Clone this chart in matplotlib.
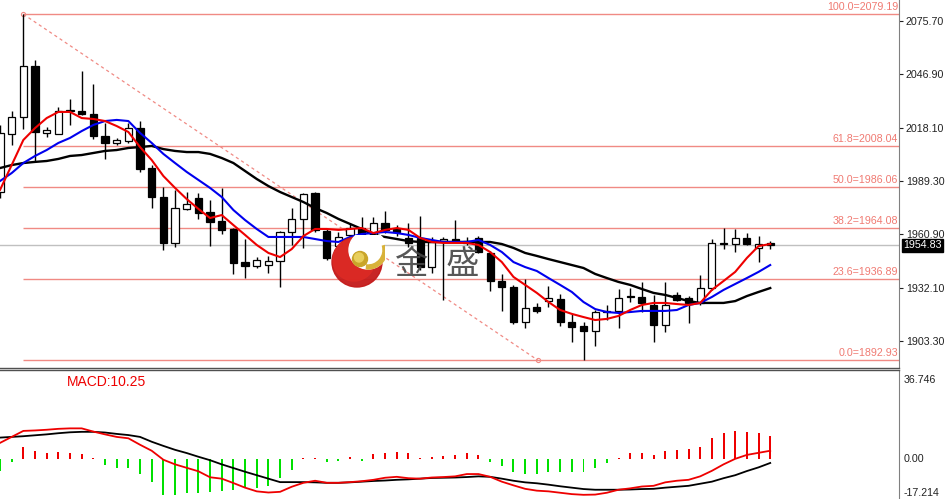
import numpy as np
import matplotlib
matplotlib.use("Agg")
import matplotlib.pyplot as plt
from matplotlib.patches import Circle, Wedge
from matplotlib.transforms import blended_transform_factory

plt.rcParams['font.family'] = ['Liberation Sans', 'DejaVu Sans']

# candles (open, high, low, close)
opens = [1983.5, 2014.7, 2023.9, 2051.3, 2015.3, 2014.7, 2027.1, 2027.1, 2025.5, 2013.6,
         2009.9, 2010.9, 2017.9, 1996.4, 1980.8, 1956.0, 1974.3, 1980.3, 1972.7, 1967.9,
         1963.6, 1945.8, 1943.7, 1944.2, 1946.4, 1962.0, 1969.0, 1983.0, 1962.5, 1954.4,
         1960.4, 1964.1, 1947.4, 1966.8, 1963.6, 1958.7, 1958.7, 1943.1, 1957.1, 1958.2,
         1957.1, 1958.7, 1950.7, 1935.6, 1932.4, 1913.5, 1921.6, 1924.8, 1925.9, 1913.5,
         1911.4, 1908.7, 1918.9, 1919.5, 1927.5, 1927.0, 1922.7, 1911.9, 1928.0, 1926.5,
         1923.8, 1931.8, 1956.1, 1955.5, 1958.7, 1953.4, 1955.8]
highs = [2019.6, 2027.1, 2079.19, 2054.5, 2018.5, 2029.3, 2033.6, 2048.6, 2041.6, 2020.6,
         2012.6, 2020.6, 2021.7, 1998.0, 1986.2, 1984.6, 1983.5, 1983.0, 1979.2, 1985.6,
         1964.0, 1958.2, 1948.5, 1949.1, 1962.5, 1974.9, 1983.0, 1983.5, 1963.5, 1962.0,
         1966.8, 1970.0, 1970.0, 1973.3, 1965.7, 1966.8, 1970.6, 1959.3, 1959.3, 1968.4,
         1959.3, 1959.8, 1951.8, 1939.4, 1933.5, 1936.7, 1923.8, 1932.9, 1928.6, 1917.8,
         1913.5, 1920.0, 1922.7, 1931.3, 1931.8, 1935.1, 1928.0, 1935.1, 1929.7, 1927.5,
         1938.8, 1958.2, 1964.1, 1963.6, 1961.4, 1959.8, 1957.1]
lows = [1980.3, 2008.8, 2017.4, 1999.6, 2013.1, 2014.5, 2019.6, 2024.9, 2012.0, 2001.3,
        2008.8, 2009.9, 1994.3, 1974.9, 1952.3, 1953.9, 1973.8, 1969.0, 1954.4, 1960.9,
        1939.4, 1937.2, 1942.6, 1939.9, 1932.4, 1955.0, 1953.4, 1962.0, 1946.9, 1952.3,
        1958.7, 1950.7, 1945.8, 1961.4, 1959.8, 1953.9, 1941.5, 1939.9, 1925.4, 1956.6,
        1955.0, 1950.7, 1930.2, 1919.5, 1912.4, 1910.3, 1918.4, 1921.6, 1911.4, 1902.8,
        1892.93, 1900.6, 1914.6, 1910.3, 1924.3, 1918.9, 1902.8, 1908.2, 1924.8, 1913.0,
        1922.7, 1930.8, 1952.8, 1951.2, 1955.0, 1945.8, 1952.8]
closes = [2015.3, 2023.9, 2051.3, 2015.8, 2016.9, 2027.1, 2027.4, 2025.5, 2013.6, 2009.9,
          2011.5, 2017.9, 1995.9, 1980.8, 1956.0, 1974.9, 1977.0, 1972.2, 1967.4, 1963.0,
          1945.3, 1943.7, 1946.9, 1946.4, 1962.0, 1969.0, 1982.4, 1963.0, 1948.0, 1959.3,
          1964.1, 1952.3, 1966.8, 1963.0, 1962.0, 1956.0, 1943.1, 1956.6, 1958.2, 1957.1,
          1956.0, 1951.2, 1935.6, 1932.4, 1913.5, 1921.1, 1919.5, 1926.5, 1913.5, 1910.8,
          1908.7, 1918.9, 1919.5, 1926.5, 1927.0, 1923.8, 1911.9, 1922.7, 1925.4, 1923.8,
          1931.8, 1956.1, 1955.5, 1958.7, 1955.5, 1955.5, 1954.83]

# moving averages
ma_fast = [1984.6, 1998.0, 2011.5, 2017.9, 2023.3, 2026.6, 2026.6, 2023.3, 2022.8, 2021.7,
           2019.0, 2015.8, 2007.7, 2000.7, 1992.1, 1985.7, 1979.7, 1974.4, 1969.5, 1971.1,
           1965.7, 1960.4, 1955.0, 1950.7, 1948.5, 1952.8, 1959.8, 1963.6, 1963.6, 1963.1,
           1963.6, 1964.1, 1961.4, 1963.1, 1964.1, 1963.1, 1958.8, 1956.6, 1956.1, 1956.1,
           1956.1, 1955.0, 1951.2, 1945.8, 1937.8, 1933.5, 1929.2, 1924.3, 1920.0, 1917.9,
           1916.2, 1914.6, 1915.2, 1916.8, 1920.0, 1922.7, 1923.8, 1923.8, 1923.2, 1922.7,
           1923.8, 1930.8, 1935.6, 1940.5, 1948.0, 1954.4, 1955.5]
ma_mid = [1989.4, 1993.7, 1999.1, 2002.9, 2006.1, 2009.9, 2012.6, 2016.3, 2019.6, 2021.7,
          2022.3, 2021.7, 2015.3, 2009.9, 2004.0, 1999.1, 1994.3, 1990.0, 1985.7, 1980.8,
          1973.8, 1968.4, 1963.6, 1959.3, 1959.3, 1959.3, 1959.3, 1958.2, 1957.1, 1956.6,
          1959.3, 1960.9, 1961.4, 1962.0, 1961.4, 1960.4, 1958.8, 1957.7, 1956.6, 1956.6,
          1956.6, 1957.7, 1955.0, 1951.2, 1945.8, 1943.1, 1941.0, 1937.2, 1933.5, 1929.7,
          1924.3, 1920.5, 1918.9, 1918.4, 1918.9, 1919.5, 1919.5, 1919.5, 1920.0, 1922.7,
          1923.8, 1927.0, 1930.8, 1934.0, 1937.2, 1940.5, 1944.2]
ma_slow = [1996.4, 1998.0, 1999.1, 1999.7, 2000.2, 2001.3, 2002.9, 2003.4, 2004.5, 2005.6,
           2006.1, 2007.2, 2007.7, 2008.3, 2006.6, 2005.6, 2005.0, 2005.0, 2004.0, 2001.8,
           1999.1, 1994.8, 1990.5, 1986.7, 1983.5, 1980.8, 1978.1, 1974.9, 1972.2, 1969.0,
           1966.3, 1963.6, 1960.4, 1959.3, 1958.2, 1957.1, 1956.6, 1956.6, 1956.6, 1956.6,
           1956.6, 1956.6, 1956.6, 1955.5, 1953.4, 1950.7, 1949.1, 1947.4, 1945.8, 1944.2,
           1942.6, 1939.4, 1937.2, 1935.1, 1933.5, 1931.3, 1929.2, 1928.1, 1926.5, 1924.8,
           1923.8, 1923.8, 1923.8, 1924.8, 1927.5, 1929.7, 1931.8]

# fibonacci retracement
fib_pct = [0.0, 23.6, 38.2, 50.0, 61.8, 100.0]
fib_price = [1892.93, 1936.89, 1964.08, 1986.06, 2008.04, 2079.19]
fib_x = [2, 46.1]  # anchor bars of the drawn fib tool

y_ticks = [2075.70, 2046.90, 2018.10, 1989.30, 1960.90, 1932.10, 1903.30]
last_price = 1954.83

# MACD
macd_hist = [-5.1, -1.0, 5.5, 3.6, 2.6, 3.0, 2.6, 2.2, 0.4, -2.5,
             -3.9, -3.9, -6.5, -10.0, -15.4, -15.4, -14.7, -14.7, -14.0, -13.7,
             -13.3, -12.6, -12.6, -11.4, -8.2, -4.6, 0.4, 0.4, -1.3, -0.7,
             1.2, -0.7, 2.2, 2.6, 3.0, 2.6, 0.4, 1.2, 1.6, 1.9,
             2.6, 1.9, -1.0, -2.7, -5.6, -6.5, -6.5, -5.6, -5.6, -5.6,
             -5.6, -3.6, -1.7, 0.4, 2.6, 2.6, 1.9, 3.6, 4.0, 4.5,
             5.5, 9.4, 11.3, 12.4, 12.0, 11.3, 10.25]
macd_dif = [7.1, 9.7, 12.3, 12.5, 12.8, 13.2, 13.4, 13.4, 12.0, 10.8,
            9.7, 9.1, 6.3, 3.7, -0.2, -2.2, -3.7, -5.2, -7.8, -8.4,
            -10.3, -12.3, -13.9, -14.4, -14.1, -11.9, -10.2, -9.3, -10.2, -10.2,
            -9.9, -9.5, -8.9, -8.0, -7.6, -8.2, -8.4, -7.9, -7.7, -7.4,
            -6.4, -6.4, -7.6, -9.7, -11.3, -12.8, -13.6, -13.9, -14.5, -15.1,
            -15.4, -15.3, -14.5, -13.2, -12.6, -11.8, -11.5, -10.0, -9.3, -8.9,
            -7.4, -5.0, -2.2, 0.2, 1.9, 2.8, 3.7]
macd_dea = [9.4, 9.7, 10.0, 10.4, 10.8, 11.3, 11.7, 11.9, 11.9, 11.6,
            11.0, 10.5, 9.7, 7.6, 5.8, 4.1, 2.7, 1.1, -0.4, -2.2,
            -3.8, -5.4, -6.9, -8.4, -9.9, -9.9, -9.9, -10.0, -10.2, -10.2,
            -10.0, -9.7, -9.4, -9.2, -8.9, -8.7, -8.4, -8.1, -8.0, -7.9,
            -7.7, -7.4, -7.6, -8.4, -9.3, -10.0, -10.4, -11.0, -11.7, -12.3,
            -12.9, -13.2, -13.2, -13.2, -13.1, -12.9, -12.8, -12.3, -11.9, -11.5,
            -10.6, -9.7, -8.2, -6.9, -5.1, -3.5, -1.6]
macd_max, macd_min = 36.746, -17.214

W, H = 946, 499
fig = plt.figure(figsize=(W / 100, H / 100), dpi=100)
fig.patch.set_facecolor('white')

ax = fig.add_axes([0, 131 / H, 899 / W, 368 / H])
ax2 = fig.add_axes([0, 0, 899 / W, 129 / H])

x = np.arange(len(closes))
xmax = 899 / 11.67
fib_col = '#f08a84'

# fib lines + labels
ax.hlines(fib_price, fib_x[0], xmax, colors=fib_col, lw=1, zorder=1)
tr = blended_transform_factory(ax.transAxes, ax.transData)
for pct, pr in zip(fib_pct, fib_price):
    ax.annotate(f"{pct:.1f}={pr:.2f}", xy=(0.999, pr), xycoords=tr,
                xytext=(0, 1.5), textcoords='offset points',
                ha='right', va='bottom', fontsize=7.7, color='#f07a72')
ax.plot(fib_x, [fib_price[-1], fib_price[0]], ls=(0, (2.5, 2.5)), color=fib_col,
        lw=0.9, zorder=1)
ax.plot(fib_x, [fib_price[-1], fib_price[0]], ls='none', marker='o', ms=3,
        mfc='none', mec=fib_col, mew=0.8, zorder=1)

# current price line
ax.axhline(last_price, color='#c0c0c0', lw=1, zorder=1)

# candles
o = np.array(opens); c = np.array(closes)
ax.vlines(x, lows, highs, colors='black', lw=1, zorder=2)
body_lo = np.minimum(o, c)
body_h = np.abs(c - o)
fills = ['black' if cc < oo else 'white' for oo, cc in zip(o, c)]
ax.bar(x, body_h, bottom=body_lo, width=0.62, color=fills, edgecolor='black',
       linewidth=0.9, zorder=3)

# moving averages
ax.plot(x, ma_slow, color='black', lw=1.7, zorder=4)
ax.plot(x, ma_mid, color='#0000ee', lw=1.5, zorder=4)
ax.plot(x, ma_fast, color='#ee0000', lw=1.5, zorder=4)

ax.set_xlim(0, xmax)
ax.set_ylim(1888.78, 2086.84)
ax.yaxis.tick_right()
ax.set_yticks(y_ticks)
ax.set_yticklabels([f"{v:.2f}" for v in y_ticks])
ax.tick_params(axis='y', length=3, width=0.8, pad=2, labelsize=7.7, colors='#222222')
ax.set_xticks([])
for s in ['top', 'left']:
    ax.spines[s].set_visible(False)
ax.spines['right'].set_color('#808080')
ax.spines['bottom'].set_color('#505050')
ax.spines['bottom'].set_linewidth(1.0)

ax.annotate(f"{last_price:.2f}", xy=(1.0, last_price), xycoords=tr,
            xytext=(3, 0), textcoords='offset points', ha='left', va='center',
            fontsize=7.7, color='white',
            bbox=dict(boxstyle='square,pad=0.15', fc='black', ec='black'))

# MACD panel
hist = np.array(macd_hist)
bar_cols = np.where(hist >= 0, '#ee0000', '#00e000')
ax2.bar(x, hist, width=0.17, color=bar_cols, zorder=2)
ax2.plot(x, macd_dea, color='black', lw=1.3, zorder=3)
ax2.plot(x, macd_dif, color='#ee0000', lw=1.3, zorder=3)
ax2.set_xlim(0, xmax)
ax2.set_ylim(macd_min, 38.7)
ax2.set_xticks([])
ax2.set_yticks([])
for s in ['bottom', 'left']:
    ax2.spines[s].set_visible(False)
ax2.spines['right'].set_color('#808080')
ax2.spines['top'].set_color('#505050')
ax2.spines['top'].set_linewidth(1.0)
ax2.text(67 / 899, 117 / 129, f"MACD:{macd_hist[-1]:.2f}", transform=ax2.transAxes,
         color='#ee0000', fontsize=10, va='center', ha='left')
tr2 = blended_transform_factory(ax2.transAxes, ax2.transData)
ax2.text(1.005, macd_max - 2.5, f"{macd_max:.3f}", transform=tr2, fontsize=7.7,
         va='center', ha='left', color='#222222')
ax2.text(1.005, 0, "0.00", transform=tr2, fontsize=7.7, va='center', ha='left',
         color='#222222')
ax2.text(1.005, macd_min + 2.5, f"{macd_min:.3f}", transform=tr2, fontsize=7.7,
         va='center', ha='left', color='#222222')

# watermark logo
lg = fig.add_axes([330 / W, (H - 290) / H, 55 / W, 55 / H])
lg.set_xlim(0, 55); lg.set_ylim(0, 55); lg.axis('off')
lg.patch.set_alpha(0)
lg.add_patch(Circle((27, 28), 25, color='#c41a1a', alpha=0.95))
lg.add_patch(Circle((24, 30), 21, color='#dd2a24', alpha=0.9))
lg.add_patch(Circle((38, 40), 19, color='white'))
lg.add_patch(Wedge((38, 40), 19, -95, 15, width=4, color='#d8b23a'))
lg.add_patch(Circle((30, 31), 7.5, color='#c9a52a'))
lg.add_patch(Circle((29, 32.5), 4.5, color='#e8cf5c'))
fig.text(411 / W, 1 - 265 / H, "金", fontsize=24, color='#454545', ha='center',
         va='center', family=['Noto Sans CJK SC', 'DejaVu Sans'], alpha=0.9)
fig.text(462 / W, 1 - 265 / H, "盛", fontsize=24, color='#454545', ha='center',
         va='center', family=['Noto Sans CJK SC', 'DejaVu Sans'], alpha=0.9)

fig.savefig('out.png', dpi=100, facecolor='white')
